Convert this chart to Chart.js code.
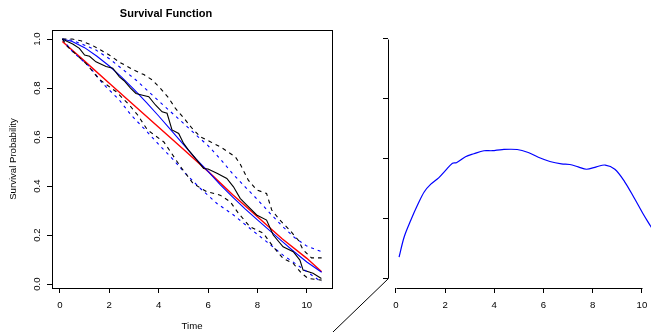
<!DOCTYPE html>
<html>
<head>
<meta charset="utf-8">
<script src="https://cdn.jsdelivr.net/npm/chart.js@4.4.1/dist/chart.umd.min.js"></script>
<style>
  html, body { margin: 0; padding: 0; background: #fff; overflow: hidden; width: 651px; height: 332px; }
  canvas { position: absolute; top: 0; }
  #survChart { left: 0; }
  #hazChart { left: 300px; }
</style>
</head>
<body>
<canvas id="survChart" width="340" height="332"></canvas>
<canvas id="hazChart" width="375" height="332"></canvas>
<script>
// tick labels
var timeTicks = [0, 2, 4, 6, 8, 10];
var probTicks = [0, 0.2, 0.4, 0.6, 0.8, 1.0];
var hazTicks = [0, 1, 2, 3, 4];

// Kaplan-Meier estimate (black solid)
var kmTime = [0.1, 0.3, 0.52, 0.79, 1.0, 1.2, 1.46, 1.87, 2.14, 2.41, 2.6, 2.86, 3.08, 3.35, 3.6, 3.87, 4.14, 4.34, 4.54, 4.81, 5.01, 5.21, 5.55, 5.82, 6.0, 6.36, 6.76, 7.03, 7.3, 7.57, 7.97, 8.37, 8.64, 9.04, 9.45, 9.72, 9.85, 10.25, 10.59];
var kmSurv = [1.0, 0.99, 0.98, 0.962, 0.935, 0.93, 0.907, 0.888, 0.881, 0.846, 0.83, 0.80, 0.778, 0.771, 0.765, 0.731, 0.703, 0.697, 0.629, 0.615, 0.574, 0.547, 0.506, 0.472, 0.47, 0.452, 0.431, 0.397, 0.35, 0.322, 0.282, 0.261, 0.2, 0.152, 0.132, 0.098, 0.057, 0.044, 0.023];

// KM confidence band (black dashed)
var kmUpperTime = [0.1, 0.5, 0.85, 1.3, 1.65, 2.0, 2.39, 3.0, 3.4, 3.74, 4.07, 4.4, 4.68, 5.0, 5.35, 5.7, 6.09, 6.5, 6.9, 7.1, 7.3, 7.63, 7.97, 8.37, 8.58, 8.91, 9.31, 9.65, 9.85, 10.19, 10.6];
var kmUpper = [1.0, 1.0, 0.993, 0.975, 0.955, 0.935, 0.907, 0.873, 0.855, 0.833, 0.799, 0.76, 0.717, 0.68, 0.636, 0.60, 0.581, 0.56, 0.533, 0.52, 0.49, 0.424, 0.384, 0.37, 0.302, 0.261, 0.22, 0.18, 0.14, 0.107, 0.107];
var kmLowerTime = [0.1, 0.3, 1.06, 1.6, 2.27, 2.81, 3.15, 3.54, 4.21, 4.48, 4.88, 5.4, 5.95, 6.49, 6.9, 7.23, 7.7, 8.24, 8.64, 9.04, 9.45, 9.79, 10.05, 10.6];
var kmLower = [1.0, 0.97, 0.90, 0.835, 0.786, 0.731, 0.69, 0.63, 0.58, 0.54, 0.48, 0.41, 0.377, 0.363, 0.336, 0.289, 0.234, 0.207, 0.152, 0.105, 0.084, 0.044, 0.023, 0.016];

// smooth fitted survival (blue solid) and its band (blue dashed)
var fitTime = [0.1, 0.5, 1.0, 1.5, 2.0, 2.5, 3.0, 3.5, 4.0, 4.5, 5.0, 5.5, 6.0, 6.5, 7.0, 7.5, 8.0, 8.5, 9.0, 9.5, 10.0, 10.6];
var fitSurv = [1.0, 0.99, 0.965, 0.93, 0.89, 0.845, 0.795, 0.742, 0.686, 0.628, 0.57, 0.512, 0.46, 0.405, 0.355, 0.307, 0.262, 0.218, 0.174, 0.131, 0.09, 0.048];
var fitUpperTime = [0.1, 0.5, 1.0, 1.46, 2.0, 2.41, 3.08, 3.67, 4.3, 5.01, 5.5, 6.0, 6.5, 7.0, 7.5, 8.0, 8.5, 9.0, 9.5, 10.0, 10.6];
var fitUpper = [1.0, 0.995, 0.975, 0.955, 0.92, 0.887, 0.833, 0.778, 0.72, 0.656, 0.61, 0.565, 0.51, 0.45, 0.397, 0.345, 0.29, 0.237, 0.19, 0.155, 0.132];
var fitLowerTime = [0.1, 0.5, 1.2, 1.73, 2.41, 2.88, 3.5, 4.0, 4.61, 5.08, 5.69, 6.36, 7.03, 7.7, 8.37, 9.04, 9.72, 10.6];
var fitLower = [1.0, 0.95, 0.887, 0.819, 0.751, 0.69, 0.625, 0.57, 0.506, 0.452, 0.39, 0.329, 0.282, 0.227, 0.173, 0.118, 0.071, 0.008];

// reference survival (red)
var refTime = [0.1, 1, 2, 3, 4, 5, 6, 7, 8, 9, 10, 10.6];
var refSurv = [0.99, 0.91, 0.82, 0.73, 0.64, 0.55, 0.46, 0.365, 0.275, 0.185, 0.105, 0.05];

// right panel curve (blue)
var hazTime = [0.13, 0.34, 0.61, 0.88, 1.15, 1.42, 1.75, 2.02, 2.30, 2.46, 2.83, 3.17, 3.58, 3.91, 4.32, 4.93, 5.38, 5.79, 6.26, 6.73, 7.07, 7.41, 7.75, 8.15, 8.51, 8.90, 9.30, 9.70, 10.04, 10.35, 10.6];
var hazVal = [0.35, 0.69, 0.97, 1.22, 1.44, 1.57, 1.68, 1.80, 1.92, 1.93, 2.03, 2.08, 2.13, 2.13, 2.15, 2.15, 2.10, 2.02, 1.95, 1.91, 1.90, 1.86, 1.82, 1.86, 1.89, 1.82, 1.61, 1.33, 1.08, 0.87, 0.70];

Chart.defaults.font.family = '"Liberation Sans", Arial, Helvetica, sans-serif';
Chart.defaults.color = '#000';
Chart.defaults.animation = false;

function pts(xs, ys) {
    return xs.map(function (x, i) { return { x: x, y: ys[i] }; });
}

function line(xs, ys, color, dash, width) {
    return {
        data: pts(xs, ys),
        borderColor: color,
        borderWidth: width || 1.1,
        borderDash: dash || [],
        pointRadius: 0,
        tension: 0,
        fill: false
    };
}

var tickFont = { size: 9.6 };

// box around the left plot
var boxPlugin = {
    id: 'box',
    afterDraw: function (chart) {
        var a = chart.chartArea, ctx = chart.ctx;
        ctx.save();
        ctx.strokeStyle = '#000';
        ctx.lineWidth = 1;
        ctx.strokeRect(Math.round(a.left) + 0.5, Math.round(a.top) + 0.5,
            Math.round(a.right - a.left), Math.round(a.bottom - a.top));
        ctx.restore();
    }
};

// R style axis lines (first tick to last tick) plus the slanted stroke
var axisPlugin = {
    id: 'rAxes',
    afterDraw: function (chart) {
        var a = chart.chartArea, ctx = chart.ctx;
        var xs = chart.scales.x, ys = chart.scales.y;
        var y0 = Math.round(ys.getPixelForValue(hazTicks[0])) + 0.5;
        var y1 = Math.round(ys.getPixelForValue(hazTicks[hazTicks.length - 1])) + 0.5;
        var xl = Math.round(a.left) + 0.5;
        var x0 = Math.round(xs.getPixelForValue(timeTicks[0])) + 0.5;
        var x1 = Math.round(xs.getPixelForValue(timeTicks[timeTicks.length - 1])) + 0.5;
        var yb = Math.round(a.bottom) + 0.5;
        ctx.save();
        ctx.strokeStyle = '#000';
        ctx.lineWidth = 1;
        ctx.beginPath();
        ctx.moveTo(xl, y1);
        ctx.lineTo(xl, y0);
        ctx.lineTo(xl - 80, y0 + 80 * 53 / 55);
        ctx.moveTo(x0, yb);
        ctx.lineTo(x1, yb);
        ctx.stroke();
        ctx.restore();
    }
};

new Chart(document.getElementById('survChart'), {
    type: 'line',
    data: {
        datasets: [
            line(kmUpperTime, kmUpper, '#000', [4, 4]),
            line(kmLowerTime, kmLower, '#000', [4, 4]),
            line(fitUpperTime, fitUpper, '#0000ff', [3, 4]),
            line(fitLowerTime, fitLower, '#0000ff', [3, 4]),
            line(kmTime, kmSurv, '#000'),
            line(fitTime, fitSurv, '#0000ff'),
            line(refTime, refSurv, '#ff0000', [], 1.4)
        ]
    },
    options: {
        responsive: false,
        layout: { padding: { left: 0, right: 8, top: 0, bottom: 0 } },
        plugins: {
            legend: { display: false },
            tooltip: { enabled: false },
            title: {
                display: true,
                text: 'Survival Function',
                color: '#000',
                font: { size: 11, weight: 'bold' },
                padding: { top: 7.6, bottom: 9.2 }
            }
        },
        scales: {
            x: {
                type: 'linear',
                min: -0.32,
                max: 11.02,
                afterBuildTicks: function (s) { s.ticks = timeTicks.map(function (v) { return { value: v }; }); },
                afterFit: function (s) { s.height = 44; },
                ticks: { font: tickFont, padding: 6.2, maxRotation: 0, callback: function (v) { return String(v); } },
                grid: { drawOnChartArea: false, drawTicks: true, tickLength: 5, tickColor: '#000' },
                border: { display: false },
                title: { display: true, text: 'Time', font: tickFont, color: '#000', padding: { top: 0, bottom: 0.2 } }
            },
            y: {
                type: 'linear',
                min: -0.016,
                max: 1.037,
                afterBuildTicks: function (s) { s.ticks = probTicks.map(function (v) { return { value: v }; }); },
                afterFit: function (s) { s.width = 52; },
                ticks: { font: tickFont, padding: 3.3, minRotation: 90, maxRotation: 90, crossAlign: 'center', callback: function (v) { return v.toFixed(1); } },
                grid: { drawOnChartArea: false, drawTicks: true, tickLength: 5, tickColor: '#000' },
                border: { display: false },
                title: { display: true, text: 'Survival Probability', font: tickFont, color: '#000', padding: { top: 7.2, bottom: 0 } }
            }
        }
    },
    plugins: [boxPlugin]
});

new Chart(document.getElementById('hazChart'), {
    type: 'line',
    data: {
        datasets: [
            Object.assign(line(hazTime, hazVal, '#0000ff', [], 1.2), { tension: 0.35 })
        ]
    },
    options: {
        responsive: false,
        layout: { padding: { left: 0, right: 8, top: 30, bottom: 0 } },
        plugins: {
            legend: { display: false },
            tooltip: { enabled: false }
        },
        scales: {
            x: {
                type: 'linear',
                min: -0.32,
                max: 11.02,
                afterBuildTicks: function (s) { s.ticks = timeTicks.map(function (v) { return { value: v }; }); },
                afterFit: function (s) { s.height = 44; },
                ticks: { font: tickFont, padding: 6.2, maxRotation: 0, callback: function (v) { return String(v); } },
                grid: { drawOnChartArea: false, drawTicks: true, tickLength: 5, tickColor: '#000' },
                border: { display: false }
            },
            y: {
                type: 'linear',
                min: -0.167,
                max: 4.15,
                afterBuildTicks: function (s) { s.ticks = hazTicks.map(function (v) { return { value: v }; }); },
                afterFit: function (s) { s.width = 88; },
                ticks: { display: false },
                grid: { drawOnChartArea: false, drawTicks: true, tickLength: 5, tickColor: '#000' },
                border: { display: false }
            }
        }
    },
    plugins: [axisPlugin]
});
</script>
</body>
</html>
